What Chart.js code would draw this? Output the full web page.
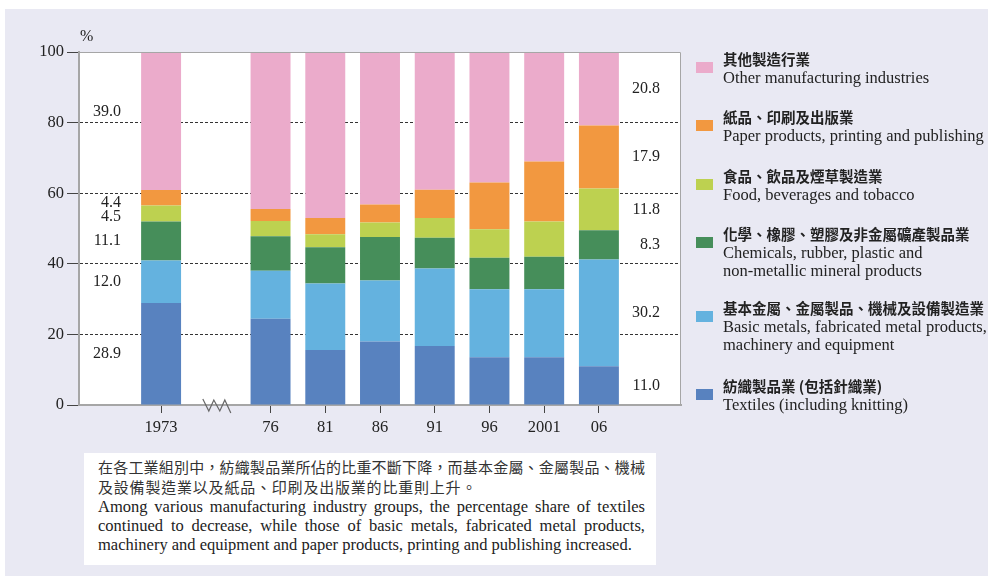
<!DOCTYPE html>
<html>
<head>
<meta charset="utf-8">
<script src="https://cdn.jsdelivr.net/npm/chart.js"></script>
<style>
  body { margin: 0; background: #fff; }
  #page { position: relative; width: 988px; height: 576px; overflow: hidden; background: #fff; }
  #panel { position: absolute; left: 5px; top: 9px; width: 983px; height: 567px; background: #e9e9f3; }
  #chart { position: absolute; left: 0; top: 0; }
  .serif { font-family: "Liberation Serif", "Times New Roman", serif; }
  #pct { position: absolute; left: 80px; top: 27px; font-size: 16px; color: #222; }
  .item { position: absolute; left: 696px; }
  .item .sw { position: absolute; left: 0; top: 12px; width: 17px; height: 11px; }
  .item .txt { position: absolute; left: 27px; top: 0; width: 280px; font-size: 16.5px; line-height: 18.5px; color: #222; white-space: nowrap; }
  .item .zh { font-family: "Noto Sans CJK TC", sans-serif; font-weight: 700; font-size: 14.5px; }
  #note { position: absolute; left: 84px; top: 453px; width: 572px; height: 112px; background: #fff; }
  #note div { position: absolute; left: 14px; width: 547px; line-height: 19.5px; color: #222; text-align: justify; text-align-last: justify; white-space: nowrap; }
  #note .zh { font-family: "Noto Sans CJK TC", sans-serif; font-size: 15px; color: #333; }
  #note .en { font-family: "Liberation Serif", "Times New Roman", serif; font-size: 16.5px; }
  #note .last { text-align-last: left; }
</style>
</head>
<body>
<div id="page">
  <div id="panel"></div>
  <canvas id="chart" width="988" height="576"></canvas>
  <div id="pct" class="serif">%</div>

  <div class="item" style="top:50px"><div class="sw" style="background:#ebabcb"></div><div class="txt serif"><div class="zh">其他製造行業</div>Other manufacturing industries</div></div>
  <div class="item" style="top:108px"><div class="sw" style="background:#f29840"></div><div class="txt serif"><div class="zh">紙品、印刷及出版業</div>Paper products, printing and publishing</div></div>
  <div class="item" style="top:167px"><div class="sw" style="background:#bdd150"></div><div class="txt serif"><div class="zh">食品、飲品及煙草製造業</div>Food, beverages and tobacco</div></div>
  <div class="item" style="top:225px"><div class="sw" style="background:#468e5a"></div><div class="txt serif"><div class="zh">化學、橡膠、塑膠及非金屬礦產製品業</div>Chemicals, rubber, plastic and<br>non-metallic mineral products</div></div>
  <div class="item" style="top:299px"><div class="sw" style="background:#64b2df"></div><div class="txt serif"><div class="zh">基本金屬、金屬製品、機械及設備製造業</div>Basic metals, fabricated metal products,<br>machinery and equipment</div></div>
  <div class="item" style="top:377px"><div class="sw" style="background:#5882bf"></div><div class="txt serif"><div class="zh">紡織製品業 (包括針織業)</div>Textiles (including knitting)</div></div>

  <div id="note">
    <div class="zh" style="top:4px">在各工業組別中，紡織製品業所佔的比重不斷下降，而基本金屬、金屬製品、機械</div>
    <div class="zh last" style="top:24px; letter-spacing:0.8px">及設備製造業以及紙品、印刷及出版業的比重則上升。</div>
    <div class="en" style="top:44px">Among various manufacturing industry groups, the percentage share of textiles</div>
    <div class="en" style="top:63px">continued to decrease, while those of basic metals, fabricated metal products,</div>
    <div class="en last" style="top:82px">machinery and equipment and paper products, printing and publishing increased.</div>
  </div>
</div>

<script>
// years shown on the x axis
var years = ['1973', '76', '81', '86', '91', '96', '2001', '06'];

// percentage share of each industry group (bottom to top of the stack)
var textiles = [28.9, 24.4, 15.6, 18.0, 16.7, 13.5, 13.5, 11.0];
var basicMetals = [12.0, 13.6, 18.8, 17.3, 22.0, 19.3, 19.3, 30.2];
var chemicals = [11.1, 9.8, 10.3, 12.3, 8.7, 8.9, 9.2, 8.3];
var food = [4.5, 4.3, 3.7, 4.1, 5.6, 8.1, 10.0, 11.8];
var paper = [4.4, 3.4, 4.6, 5.1, 8.0, 13.2, 17.0, 17.9];
var other = [39.0, 44.5, 47.0, 43.2, 39.0, 37.0, 31.0, 20.8];

var yTicks = [0, 20, 40, 60, 80, 100];

// axis slots: empty slot on each side and a gap (axis break) after 1973
var slots = ['', years[0], ''].concat(years.slice(1)).concat(['']);

function toSlots(arr) {
	var out = [];
	for (var i = 0; i < slots.length; i++) {
		var k = years.indexOf(slots[i]);
		out.push(k >= 0 ? arr[k] : null);
	}
	return out;
}

var series = [textiles, basicMetals, chemicals, food, paper, other];
var colors = ['#5882bf', '#64b2df', '#468e5a', '#bdd150', '#f29840', '#ebabcb'];
var names = ['Textiles', 'Basic metals', 'Chemicals', 'Food', 'Paper', 'Other'];

Chart.defaults.font.family = '"Liberation Serif", "Times New Roman", serif';
Chart.defaults.font.size = 16.5;
Chart.defaults.color = '#222';

var plotBg = {
	id: 'plotBg',
	beforeDraw: function(chart) {
		var a = chart.chartArea, c = chart.ctx;
		c.save();
		c.fillStyle = '#fff';
		c.fillRect(a.left, a.top, a.right - a.left, a.bottom - a.top);
		c.restore();
	},
	afterDatasetsDraw: function(chart) {
		var a = chart.chartArea, c = chart.ctx;
		c.save();
		c.strokeStyle = '#a6a6a6';
		c.lineWidth = 1;
		c.beginPath();
		c.moveTo(a.left, a.top + 0.5);
		c.lineTo(a.right - 0.5, a.top + 0.5);
		c.lineTo(a.right - 0.5, a.bottom);
		c.stroke();
		c.restore();
	}
};

// share values printed beside the first and last bar
var sideLabels = {
	id: 'sideLabels',
	afterDatasetsDraw: function(chart) {
		var c = chart.ctx, x = chart.scales.x, y = chart.scales.y;
		var first = 0, last = years.length - 1;
		var nudgeLeft = [0, 0, 0, 3, 5, -9];
		var xl = x.getPixelForValue(slots.indexOf(years[first])) - 40;
		var xr = x.getPixelForValue(slots.indexOf(years[last])) + 61;
		c.save();
		c.font = '16px "Liberation Serif", serif';
		c.fillStyle = '#222';
		c.textAlign = 'right';
		c.textBaseline = 'middle';
		var baseL = 0, baseR = 0;
		for (var i = 0; i < series.length; i++) {
			var vl = series[i][first], vr = series[i][last];
			c.fillText(vl.toFixed(1), xl, y.getPixelForValue(baseL + vl / 2) + nudgeLeft[i]);
			c.fillText(vr.toFixed(1), xr, y.getPixelForValue(baseR + vr / 2));
			baseL += vl;
			baseR += vr;
		}
		c.restore();
	}
};

// zigzag axis break in the gap slot
var axisBreak = {
	id: 'axisBreak',
	afterDraw: function(chart) {
		var c = chart.ctx, x = chart.scales.x;
		var cx = x.getPixelForValue(2), cy = chart.chartArea.bottom;
		c.save();
		c.strokeStyle = '#666';
		c.lineWidth = 1.2;
		c.beginPath();
		c.moveTo(cx - 13, cy - 6);
		c.lineTo(cx - 7, cy + 6);
		c.lineTo(cx - 2, cy - 5);
		c.lineTo(cx + 4, cy + 6);
		c.lineTo(cx + 9, cy - 5);
		c.lineTo(cx + 15, cy + 8);
		c.stroke();
		c.restore();
	}
};

var datasets = [];
for (var i = 0; i < series.length; i++) {
	datasets.push({
		label: names[i],
		data: toSlots(series[i]),
		backgroundColor: colors[i],
		borderWidth: 0,
		barPercentage: 0.73,
		categoryPercentage: 1
	});
}

new Chart(document.getElementById('chart'), {
	type: 'bar',
	data: { labels: slots, datasets: datasets },
	plugins: [plotBg, sideLabels, axisBreak],
	options: {
		responsive: false,
		animation: false,
		layout: { padding: { left: 0, top: 52, right: 307, bottom: 141 } },
		plugins: { legend: { display: false }, tooltip: { enabled: false } },
		scales: {
			x: {
				stacked: true,
				offset: true,
				afterFit: function(s) { s.height = 30; },
				grid: {
					offset: false,
					drawOnChartArea: false,
					tickLength: 8,
					tickColor: function(ctx) { return slots[ctx.index] ? '#444' : 'rgba(0,0,0,0)'; }
				},
				border: { color: '#a6a6a6', width: 2 },
				ticks: {
					autoSkip: false,
					maxRotation: 0,
					padding: 5,
					callback: function(v) { return slots[v]; }
				}
			},
			y: {
				stacked: true,
				min: 0,
				max: 100,
				afterFit: function(s) { s.width = 79; },
				afterBuildTicks: function(s) { s.ticks = yTicks.map(function(v) { return { value: v }; }); },
				grid: {
					color: function(ctx) {
						var v = ctx.tick ? ctx.tick.value : 0;
						return (v === 0 || v === 100) ? 'rgba(0,0,0,0)' : '#333';
					},
					lineWidth: 1,
					tickLength: 12,
					tickColor: '#444',
					tickBorderDash: []
				},
				border: { color: '#a6a6a6', width: 2, dash: [3, 2] },
				ticks: { padding: 3 }
			}
		}
	}
});
</script>
</body>
</html>
